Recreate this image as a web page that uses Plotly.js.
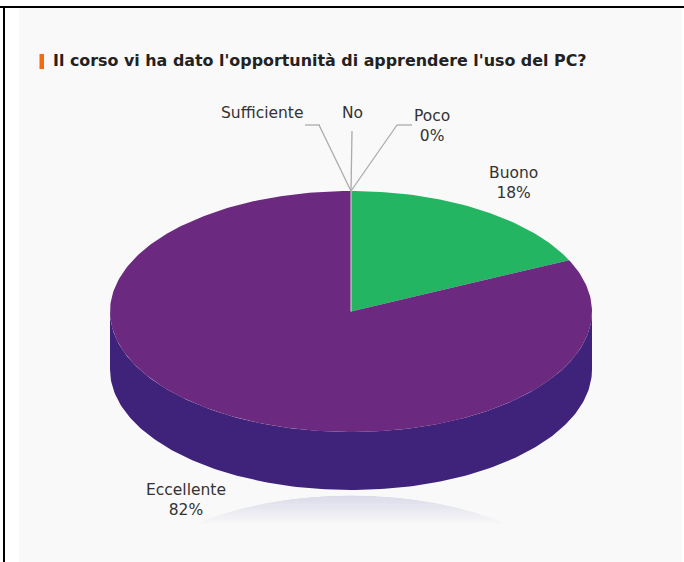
<!DOCTYPE html>
<html><head><meta charset="utf-8">
<script src="https://cdn.plot.ly/plotly-3.0.1.min.js"></script>
<style>html,body{margin:0;padding:0;background:#fff}#c{width:684px;height:562px}</style>
</head><body><div id="c"></div>
<script>
const categories = ['Buono','Poco','No','Sufficiente','Eccellente'];
const shares = [18,0,0,0,82];
const titleText = "Il corso vi ha dato l'opportunità di apprendere l'uso del PC?";
const topColors = ['#24b562','#24b562','#6b2a80','#6b2a80','#6b2a80'];
const sideColor = '#3f2279';
const W=684,H=562, cx=351, cy=311.5, rx=241, ry=120.5, depth=58;

function pt(f){const a=f*2*Math.PI;return [cx+rx*Math.sin(a),cy-ry*Math.cos(a)];}
function arc(f0,f1){const n=Math.max(2,Math.ceil(Math.abs(f1-f0)*360));const p=[];for(let i=0;i<=n;i++)p.push(pt(f0+(f1-f0)*i/n));return p;}
function poly(p,color,name){return {type:'scatter',mode:'lines',x:p.map(q=>q[0]),y:p.map(q=>q[1]),fill:'toself',fillcolor:color,line:{width:0,color:color},hoverinfo:'skip',showlegend:false,name:name};}
function line(p,color,w){return {type:'scatter',mode:'lines',x:p.map(q=>q[0]),y:p.map(q=>q[1]),line:{color:color,width:w},hoverinfo:'skip',showlegend:false};}

const traces=[];
// panel
traces.push(poly([[19,8],[682,8],[682,H],[19,H]],'#f9f9f9','panel'));
// reflection: mirrored top face, fading downward
const nBands=15;
for(let k=1;k<=nBands;k++){
  const yb=495+30*k/nBands, p=[];
  for(let t=-90;t<=90;t+=1){
    const x=cx+rx*Math.sin(t*Math.PI/180), y=616-ry*Math.cos(t*Math.PI/180);
    if(y<=yb)p.push([x,y]);
  }
  if(p.length>2)traces.push(poly(p,'rgba(90,70,140,0.011)','reflection'));
}
// side wall
const sideTop=arc(0.25,0.75), sideBot=sideTop.slice().reverse().map(q=>[q[0],q[1]+depth]);
traces.push(poly(sideTop.concat(sideBot),sideColor,'side'));
// top slices
let acc=0;
shares.forEach((v,i)=>{const s=v/100;
  if(s>0){traces.push(poly([[cx,cy]].concat(arc(acc,acc+s)).concat([[cx,cy]]),topColors[i],categories[i]));}
  acc+=s;});
// separator
traces.push(line([[cx,cy],pt(0)],'#d9d9d9',1));
// leader lines
traces.push(line([[320,125],[305,125]],'#ababab',1.3));
traces.push(line([pt(0),[319,125]],'#ababab',1.3));
traces.push(line([pt(0),[352,131]],'#ababab',1.3));
traces.push(line([pt(0),[397,125]],'#ababab',1.3));
traces.push(line([[397,125],[412,125]],'#ababab',1.3));
// border + accent
const shapes=[
 {type:'rect',xref:'x',yref:'y',x0:0,x1:W,y0:6,y1:8,fillcolor:'#000',line:{width:0}},
 {type:'rect',xref:'x',yref:'y',x0:3,x1:5,y0:6,y1:H,fillcolor:'#000',line:{width:0}},
 {type:'rect',xref:'x',yref:'y',x0:39.5,x1:44,y0:54,y1:69,fillcolor:'#f46a0c',line:{width:0}}
];
const font={family:'"DejaVu Sans"',size:15.5,color:'#333'};
function lab(x,y,t){return {x:x,y:y,xref:'x',yref:'y',text:t,showarrow:false,font:font,align:'center'};}
const annotations=[
 lab(261.5,113,categories[3]),
 lab(352,113,categories[2]),
 lab(432,126,categories[1]+'<br>'+shares[1]+'%'),
 lab(513,183,categories[0]+'<br>'+shares[0]+'%'),
 lab(186,500,categories[4]+'<br>'+shares[4]+'%'),
 {x:51,y:60,xref:'x',yref:'y',xanchor:'left',text:'<b>'+titleText+'</b>',showarrow:false,font:{family:'"DejaVu Sans"',size:15.9,color:'#222'}}
];
Plotly.newPlot('c',traces,{
 width:W,height:H,margin:{l:0,r:0,t:0,b:0},paper_bgcolor:'#fff',plot_bgcolor:'#fff',
 xaxis:{range:[0,W],visible:false,fixedrange:true},
 yaxis:{range:[H,0],visible:false,fixedrange:true},
 showlegend:false,shapes:shapes,annotations:annotations
},{displayModeBar:false,staticPlot:true});
</script></body></html>
